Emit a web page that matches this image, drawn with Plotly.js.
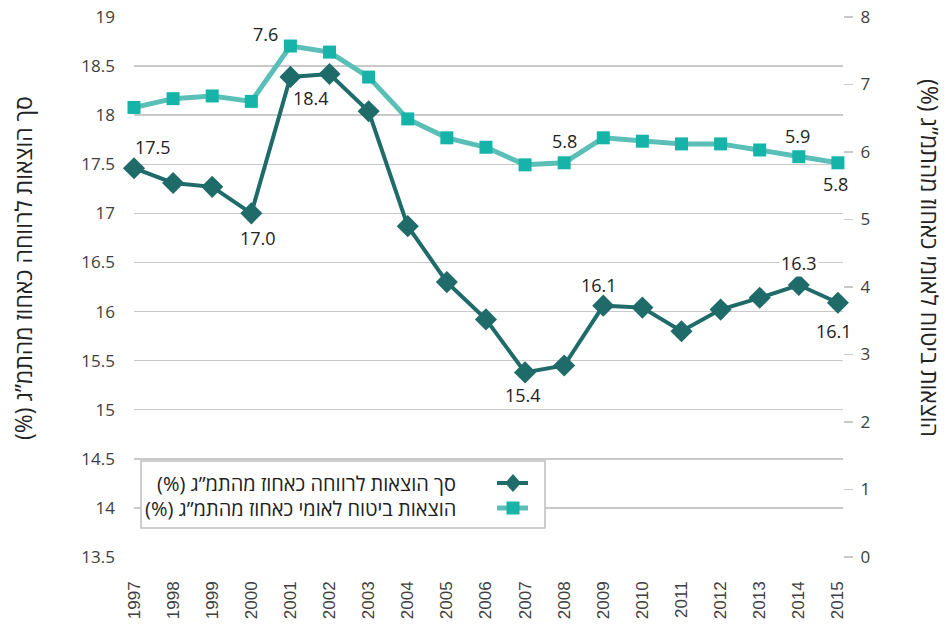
<!DOCTYPE html>
<html>
<head>
<meta charset="utf-8">
<script src="https://cdn.plot.ly/plotly-3.0.1.min.js"></script>
<style>html,body{margin:0;padding:0;background:#fff;}#chart{width:946px;height:626px;}</style>
</head>
<body>
<div id="chart"></div>
<script>
// ---- data ----
const years = ['1997','1998','1999','2000','2001','2002','2003','2004','2005','2006','2007','2008','2009','2010','2011','2012','2013','2014','2015'];
const welfareTotal = [17.46,17.31,17.27,17.00,18.39,18.42,18.04,16.87,16.30,15.92,15.38,15.45,16.06,16.04,15.80,16.02,16.14,16.27,16.09];
const nationalInsurance = [6.66,6.79,6.83,6.75,7.57,7.48,7.11,6.49,6.21,6.07,5.81,5.84,6.21,6.16,6.12,6.12,6.03,5.93,5.84];
const leftTicks = [13.5,14,14.5,15,15.5,16,16.5,17,17.5,18,18.5,19];
const rightTicks = [0,1,2,3,4,5,6,7,8];
const nameWelfare = 'סך הוצאות לרווחה כאחוז מהתמ”ג (%)';
const nameNI = 'הוצאות ביטוח לאומי כאחוז מהתמ”ג (%)';
const RLM = '\u200F';

// ---- label placement (style) ----
const welfareLabels = [{i:0,dx:19,dy:-21},{i:3,dx:7,dy:25},{i:4,dx:21,dy:21},{i:10,dx:-2,dy:23},{i:12,dx:-4,dy:-21},{i:17,dx:0,dy:-22,bg:true},{i:18,dx:-4,dy:28}];
const niLabels = [{i:4,dx:-25,dy:-12},{i:11,dx:0,dy:-22},{i:17,dx:-1,dy:-21},{i:18,dx:-2,dy:21}];

const dark = '#1e6b6a', lightMarker = '#16b3a9', lightLine = '#5ac0b7';
const textColor = '#222222', tickColor = '#404040', gridColor = '#c9c9c9';
const FONT = 'Open Sans, Noto Sans, sans-serif';

const W = 946, H = 626;
const L = 134, R = 843, T = 17, B = 557;
const px = x => (x - L) / (R - L);
const py = y => (B - y) / (B - T);

const traces = [
  {x: years, y: welfareTotal, type: 'scatter', mode: 'lines+markers', yaxis: 'y',
   line: {color: dark, width: 4}, marker: {symbol: 'diamond', size: 17, color: dark},
   cliponaxis: false, showlegend: false, name: nameWelfare},
  {x: years, y: nationalInsurance, type: 'scatter', mode: 'lines+markers', yaxis: 'y2',
   line: {color: lightLine, width: 5}, marker: {symbol: 'square', size: 13, color: lightMarker},
   cliponaxis: false, showlegend: false, name: nameNI}
];

const annotations = [];
const labelFont = {family: FONT, size: 18, color: textColor};
welfareLabels.forEach(l => annotations.push({
  x: l.i, y: welfareTotal[l.i], xref: 'x', yref: 'y', text: welfareTotal[l.i].toFixed(1),
  showarrow: false, xshift: l.dx, yshift: -l.dy, xanchor: 'center', yanchor: 'middle',
  font: labelFont, bgcolor: l.bg ? '#ffffff' : 'rgba(0,0,0,0)', borderpad: 1
}));
niLabels.forEach(l => annotations.push({
  x: l.i, y: nationalInsurance[l.i], xref: 'x', yref: 'y2', text: nationalInsurance[l.i].toFixed(1),
  showarrow: false, xshift: l.dx, yshift: -l.dy, xanchor: 'center', yanchor: 'middle',
  font: labelFont, bgcolor: 'rgba(0,0,0,0)'
}));
// axis titles
annotations.push({xref: 'paper', yref: 'paper', x: px(23), y: py(268), text: nameWelfare + RLM,
  textangle: -90, showarrow: false, xanchor: 'center', yanchor: 'middle',
  font: {family: FONT, size: 23, color: textColor}});
annotations.push({xref: 'paper', yref: 'paper', x: px(930), y: py(258), text: nameNI + RLM,
  textangle: 90, showarrow: false, xanchor: 'center', yanchor: 'middle',
  font: {family: FONT, size: 23, color: textColor}});
// legend texts
const legFont = {family: FONT, size: 20, color: textColor};
annotations.push({xref: 'paper', yref: 'paper', x: px(458), y: py(483), text: nameWelfare + RLM,
  showarrow: false, xanchor: 'right', yanchor: 'middle', font: legFont});
annotations.push({xref: 'paper', yref: 'paper', x: px(458), y: py(508), text: nameNI + RLM,
  showarrow: false, xanchor: 'right', yanchor: 'middle', font: legFont});

const shapes = [
  {type: 'rect', xref: 'paper', yref: 'paper', x0: px(141), x1: px(545), y0: py(461), y1: py(528),
   line: {color: '#bfbfbf', width: 1.5}, fillcolor: '#ffffff', layer: 'above'},
  {type: 'line', xref: 'paper', yref: 'paper', x0: px(497), x1: px(528), y0: py(483), y1: py(483),
   line: {color: dark, width: 4}, layer: 'above'},
  {type: 'path', xref: 'paper', yref: 'paper',
   path: `M${px(513)},${py(474)} L${px(521)},${py(483)} L${px(513)},${py(492)} L${px(505)},${py(483)} Z`,
   fillcolor: dark, line: {width: 0}, layer: 'above'},
  {type: 'line', xref: 'paper', yref: 'paper', x0: px(497), x1: px(528), y0: py(508), y1: py(508),
   line: {color: lightLine, width: 5}, layer: 'above'},
  {type: 'rect', xref: 'paper', yref: 'paper', x0: px(506.5), x1: px(519.5), y0: py(501.5), y1: py(514.5),
   fillcolor: lightMarker, line: {width: 0}, layer: 'above'}
];

const layout = {
  width: W, height: H,
  margin: {l: L, r: W - R, t: T, b: H - B, pad: 0},
  paper_bgcolor: '#ffffff', plot_bgcolor: '#ffffff',
  showlegend: false,
  xaxis: {type: 'category', range: [0, 18.13], showgrid: false, zeroline: false, showline: false,
    ticks: '', tickangle: -90, ticklabelstandoff: 20,
    tickfont: {family: 'Liberation Sans, Arial, sans-serif', size: 17, color: tickColor}},
  yaxis: {range: [13.5, 19], tickvals: leftTicks, ticktext: leftTicks.map(String),
    showgrid: true, gridcolor: gridColor, gridwidth: 1.5, zeroline: false, showline: false, ticks: '',
    ticklabelstandoff: 18,
    tickfont: {family: FONT, size: 17, color: tickColor}},
  yaxis2: {range: [0, 8], overlaying: 'y', side: 'right', tickvals: rightTicks, ticktext: rightTicks.map(String),
    showgrid: false, zeroline: false, showline: false, ticks: 'outside', ticklen: 9, tickwidth: 1.5, tickcolor: gridColor,
    ticklabelstandoff: 4,
    tickfont: {family: FONT, size: 17, color: tickColor}},
  annotations: annotations,
  shapes: shapes
};

Plotly.newPlot('chart', traces, layout, {displayModeBar: false, staticPlot: true});
</script>
</body>
</html>
